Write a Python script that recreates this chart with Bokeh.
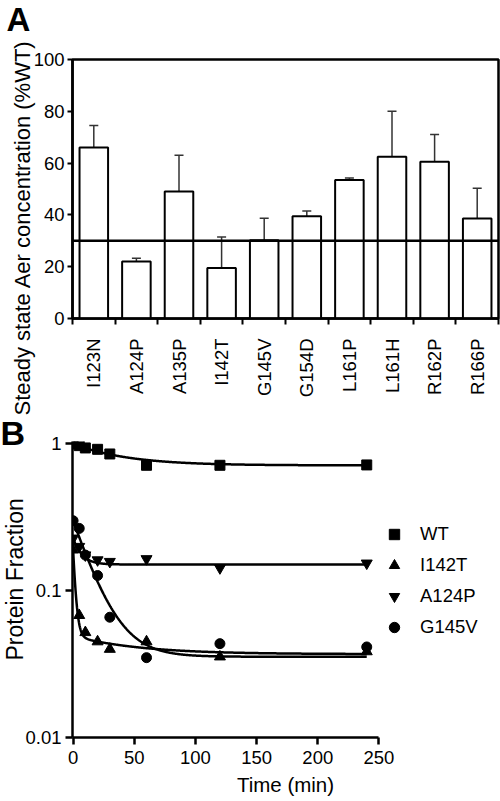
import math
import numpy as np
from bokeh.plotting import figure
from bokeh.layouts import column
from bokeh.models import (ColumnDataSource, Range1d, FixedTicker, CustomJSTickFormatter,
                          Whisker, TeeHead, Span, Legend, LegendItem, Title)
from bokeh.embed import file_html
from bokeh.resources import INLINE

FONT = "Liberation Sans"

# ---------------- Panel A data ----------------
mutants = ["I123N", "A124P", "A135P", "I142T", "G145V", "G154D", "L161P", "L161H", "R162P", "R166P"]
steady_state = [66.0, 22.0, 49.0, 19.5, 30.2, 39.5, 53.5, 62.5, 60.5, 38.6]
steady_err = [8.5, 1.3, 14.0, 12.0, 8.5, 2.0, 0.7, 17.5, 10.5, 11.7]
threshold = 30
a_yticks = [0, 20, 40, 60, 80, 100]

# ---------------- Panel B data ----------------
times = [0, 5, 10, 20, 30, 60, 120, 240]
wt = [1.0, 0.975, 0.94, 0.92, 0.855, 0.716, 0.716, 0.72]
i142t = [0.19, 0.068, 0.052, 0.045, 0.040, 0.045, 0.0355, 0.0385]
a124p = [0.228, 0.20, 0.175, 0.162, 0.158, 0.165, 0.143, 0.154]
g145v = [0.30, 0.266, 0.175, 0.127, 0.066, 0.035, 0.0436, 0.0414]
b_xticks = [0, 50, 100, 150, 200, 250]
b_yticks = [0.01, 0.1, 1]

# exponential-decay fits drawn in the figure: plateau, span, rate (1/min)
wt_fit = [0.715, 0.285, 0.025]
a124p_fit = [0.151, 0.076, 0.15]
g145v_fit = [0.0355, 0.265, 0.06]
# two-phase fit: plateau, fast span, fast rate, slow span, slow rate
i142t_fit = [0.037, 0.141, 0.5, 0.012, 0.02]


def style_axis(ax, size="18.5px"):
    ax.major_label_text_font = FONT
    ax.major_label_text_font_size = size
    ax.major_label_text_color = "black"
    ax.axis_label_text_font = FONT
    ax.axis_label_text_font_style = "normal"
    ax.axis_label_text_color = "black"


def side_title(text, size, bold=False, **kw):
    return Title(text=text, text_font=FONT, text_font_size=size,
                 text_font_style="bold" if bold else "normal", text_color="black", **kw)


# ================= Panel A =================
nA = len(mutants)
pA = figure(width=500, height=415, x_range=Range1d(0, nA), y_range=Range1d(0, 100), title=None,
            output_backend="svg", toolbar_location=None,
            min_border_left=66, min_border_right=2, min_border_top=59, min_border_bottom=97)
pA.xgrid.visible = False
pA.ygrid.visible = False
pA.outline_line_color = "black"
pA.outline_line_width = 2.5
pA.outline_line_alpha = 1.0

xs = [i + 0.5 for i in range(nA)]
srcA = ColumnDataSource(dict(x=xs, top=steady_state,
                             upper=[m + e for m, e in zip(steady_state, steady_err)]))
pA.vbar(x="x", top="top", bottom=0, width=0.67, source=srcA,
        fill_color="white", line_color="black", line_width=2)
pA.add_layout(Whisker(source=srcA, base="x", lower="top", upper="upper", dimension="height",
                      line_color="#333333", line_width=1.5, lower_head=None,
                      upper_head=TeeHead(size=9, line_color="#333333", line_width=1.5)))
pA.add_layout(Span(location=threshold, dimension="width", line_color="black", line_width=2.5))

xa = pA.xaxis[0]
xa.ticker = FixedTicker(ticks=xs, minor_ticks=list(range(nA + 1)))
xa.formatter = CustomJSTickFormatter(args=dict(labels=mutants),
                                     code="return labels[Math.floor(tick)];")
xa.major_label_orientation = math.pi / 2
xa.major_tick_out = 0
xa.major_tick_in = 0
xa.minor_tick_out = 6
xa.minor_tick_in = 0
xa.minor_tick_line_width = 2
xa.minor_tick_line_color = "black"
xa.axis_line_width = 2.5
xa.major_label_standoff = 14
style_axis(xa)

ya = pA.yaxis[0]
ya.ticker = FixedTicker(ticks=a_yticks, minor_ticks=[])
ya.major_tick_out = 5
ya.major_tick_in = 0
ya.major_tick_line_width = 2
ya.axis_line_width = 2.5
ya.major_label_standoff = 3
style_axis(ya)

# y-axis title (starts level with the bottom of the category labels)
pA.add_layout(side_title("Steady state Aer concentration (%WT)", "22px",
                         align="left", vertical_align="middle", offset=-97, standoff=-10), "left")

# panel letter "A": spacer next to the frame, letter above it
pA.add_layout(Title(text=" ", text_font_size="10px", standoff=6.5), "above")
pA.add_layout(side_title("A", "33px", bold=True, align="left", vertical_align="top",
                         offset=-66, standoff=0), "above")

# ================= Panel B =================
x0 = -0.5
pB = figure(width=500, height=386, x_range=Range1d(x0, 347.7), y_range=Range1d(0.01, 1.04),
            y_axis_type="log", title=None, output_backend="svg", toolbar_location=None,
            min_border_left=72, min_border_right=0, min_border_top=26, min_border_bottom=64)
pB.xgrid.visible = False
pB.ygrid.visible = False
pB.outline_line_color = None

tt = np.linspace(0, 240, 601)


def one_phase(par):
    p, s, k = par
    return p + s * np.exp(-k * tt)


def two_phase(par):
    p, s1, k1, s2, k2 = par
    return p + s1 * np.exp(-k1 * tt) + s2 * np.exp(-k2 * tt)


for curve in (one_phase(wt_fit), two_phase(i142t_fit), one_phase(a124p_fit), one_phase(g145v_fit)):
    pB.line(tt, curve, line_color="black", line_width=2.5)

r_wt = pB.scatter(times, wt, marker="square", size=10, color="black")
r_i142t = pB.scatter(times, i142t, marker="triangle", size=11, color="black")
r_a124p = pB.scatter(times, a124p, marker="inverted_triangle", size=11, color="black")
r_g145v = pB.scatter(times, g145v, marker="circle", size=10, color="black")

legend = Legend(items=[LegendItem(label="WT", renderers=[r_wt]),
                       LegendItem(label="I142T", renderers=[r_i142t]),
                       LegendItem(label="A124P", renderers=[r_a124p]),
                       LegendItem(label="G145V", renderers=[r_g145v])],
                location=(309, 97), glyph_width=26, glyph_height=26, label_height=26,
                spacing=5, padding=0, margin=0, label_standoff=13,
                label_text_font=FONT, label_text_font_size="18.5px", label_text_color="black",
                background_fill_alpha=0, border_line_alpha=0)
pB.add_layout(legend)

bx = pB.xaxis[0]
bx.bounds = (x0, 250)
bx.ticker = FixedTicker(ticks=b_xticks, minor_ticks=[])
bx.major_tick_out = 7
bx.major_tick_in = 0
bx.major_tick_line_width = 2.5
bx.axis_line_width = 2.5
bx.major_label_standoff = 6
style_axis(bx)
bx.axis_label = "Time (min)"
bx.axis_label_text_font_size = "20.5px"
bx.axis_label_standoff = 6

by = pB.yaxis[0]
by.ticker = FixedTicker(ticks=b_yticks, minor_ticks=[])
by.formatter = CustomJSTickFormatter(code="return String(tick);")
by.major_tick_out = 7
by.major_tick_in = 0
by.major_tick_line_width = 2.5
by.axis_line_width = 2.5
by.major_label_standoff = 4
style_axis(by)

pB.add_layout(side_title("Protein Fraction", "23px", align="left", vertical_align="middle",
                         offset=77, standoff=-13), "left")
pB.add_layout(side_title("B", "34px", bold=True, align="left", vertical_align="bottom",
                         offset=-72, standoff=-20.4), "above")

layout = column(pA, pB)
open("out.html", "w").write(file_html(layout, INLINE))
